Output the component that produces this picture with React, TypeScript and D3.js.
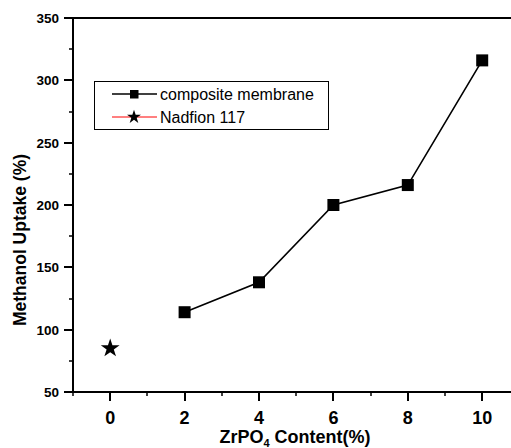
import React from "react";
import * as d3 from "d3";

const compositeX = [2, 4, 6, 8, 10];
const compositeY = [114, 138, 200, 216, 316];
const nafionX = [0];
const nafionY = [85];
const xTicks = [0, 2, 4, 6, 8, 10];
const yTicks = [50, 100, 150, 200, 250, 300, 350];
const xMinor = [-1, 1, 3, 5, 7, 9];
const yMinor = [75, 125, 175, 225, 275, 325];
const legendLabels = ["composite membrane", "Nadfion 117"];

const W = 511;
const H = 448;
const left = 73;
const top = 18;
const bottom = 392;

export default function App() {
  const x = d3.scaleLinear().domain([-1, 11]).range([left, left + 446.4]);
  const y = d3.scaleLinear().domain([50, 350]).range([bottom, top]);
  const line = d3
    .line<number>()
    .x((_, i) => x(compositeX[i]))
    .y((d) => y(d));
  const star = d3.symbol().type(d3.symbolStar).size(110)() as string;
  const right = 511;

  return (
    <svg width={W} height={H} style={{ position: "absolute", left: 0, top: 0 }}>
      <rect width={W} height={H} fill="white" />
      <line x1={left} x2={right} y1={top} y2={top} stroke="black" strokeWidth={2} />
      <line x1={left} x2={left} y1={top - 1} y2={bottom + 1} stroke="black" strokeWidth={2} />
      <line x1={left - 1} x2={right} y1={bottom} y2={bottom} stroke="black" strokeWidth={2} />
      {yTicks.map((t) => (
        <line key={"ytk" + t} x1={left - 9} x2={left} y1={Math.round(y(t))} y2={Math.round(y(t))} stroke="black" strokeWidth={2} />
      ))}
      {xTicks.map((t) => (
        <line key={"xtk" + t} x1={Math.round(x(t))} x2={Math.round(x(t))} y1={bottom} y2={bottom + 9} stroke="black" strokeWidth={2} />
      ))}
      {yMinor.map((t) => (
        <line key={"ymn" + t} x1={left - 4} x2={left} y1={Math.round(y(t))} y2={Math.round(y(t))} stroke="black" strokeWidth={1.5} />
      ))}
      {xMinor.map((t) => (
        <line key={"xmn" + t} x1={Math.round(x(t))} x2={Math.round(x(t))} y1={bottom} y2={bottom + 4} stroke="black" strokeWidth={1.5} />
      ))}
      <g fontFamily="'Liberation Sans', Arial, sans-serif" fontWeight="bold">
        {yTicks.map((t) => (
          <text key={"yt" + t} x={59} y={y(t)} dy="0.36em" textAnchor="end" fontSize={13.5}>
            {t}
          </text>
        ))}
        {xTicks.map((t) => (
          <text key={"xt" + t} x={x(t)} y={423.5} textAnchor="middle" fontSize={18}>
            {t}
          </text>
        ))}
        <text x={295} y={443} textAnchor="middle" fontSize={18}>
          ZrPO
          <tspan fontSize={11} dy={4}>4</tspan>
          <tspan dy={-4}> Content(%)</tspan>
        </text>
        <text transform="translate(26,240) rotate(-90)" textAnchor="middle" fontSize={17.5}>
          Methanol Uptake (%)
        </text>
      </g>
      <path d={line(compositeY) as string} fill="none" stroke="black" strokeWidth={1.6} />
      {compositeY.map((v, i) => (
        <rect key={"sq" + i} x={x(compositeX[i]) - 6} y={y(v) - 6} width={12} height={12} fill="black" />
      ))}
      {nafionY.map((v, i) => (
        <path key={"st" + i} d={star} transform={`translate(${x(nafionX[i])},${y(v)})`} fill="black" />
      ))}
      <rect x={94.5} y={81.5} width={234} height={48} fill="white" stroke="black" strokeWidth={1} />
      <line x1={112} x2={157} y1={94} y2={94} stroke="black" strokeWidth={1.6} />
      <rect x={130} y={90} width={8.5} height={8.5} fill="black" />
      <line x1={112} x2={157} y1={117} y2={117} stroke="red" strokeWidth={1} />
      <path d={d3.symbol().type(d3.symbolStar).size(60)() as string} transform="translate(134,117)" fill="black" />
      <g fontFamily="'Liberation Sans', Arial, sans-serif" fontSize={16}>
        <text x={160} y={94} dy="0.35em">
          {legendLabels[0]}
        </text>
        <text x={160} y={117} dy="0.35em">
          {legendLabels[1]}
        </text>
      </g>
    </svg>
  );
}
